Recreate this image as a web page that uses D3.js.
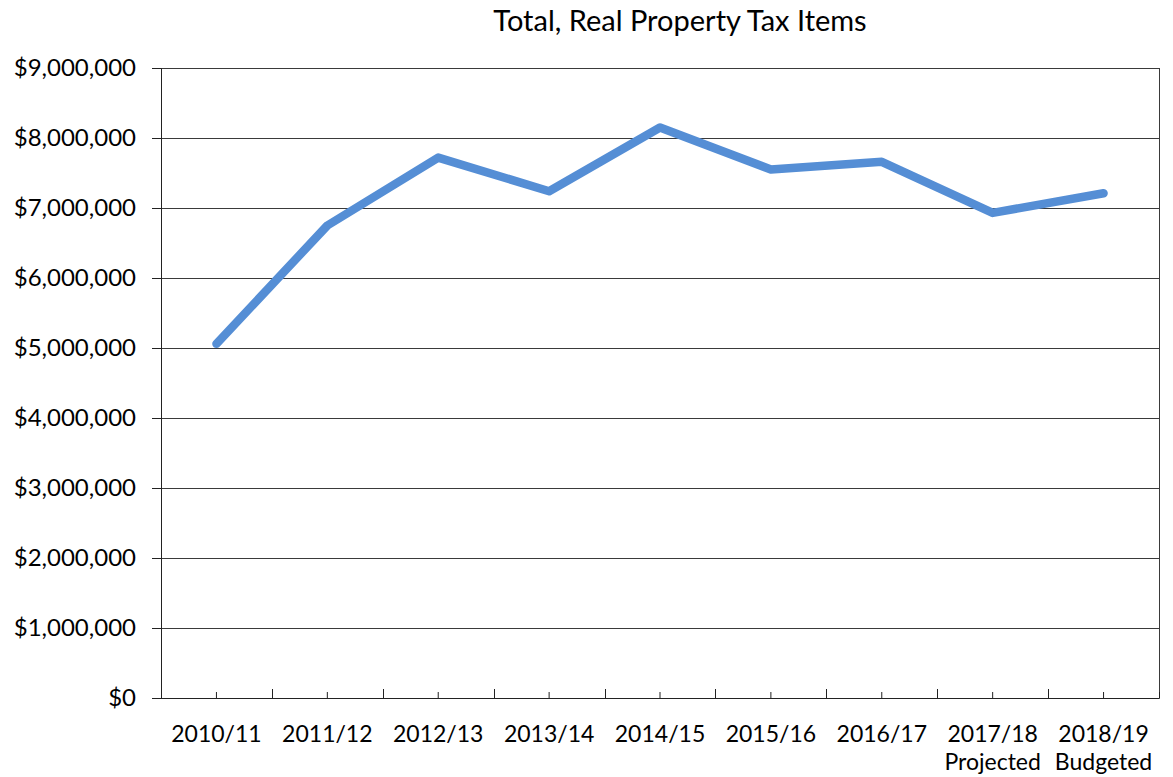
<!DOCTYPE html>
<html lang="en">

<head>
    <meta charset="UTF-8">
    <title>Total, Real Property Tax Items</title>
    <script src="https://d3js.org/d3.v7.min.js"></script>
    <style>
        body {
            margin: 0;
            background: #fff;
        }

        text {
            font-family: Lato, "Open Sans", sans-serif;
            fill: #000;
        }
    </style>
</head>

<body>
    <svg width="1173" height="777"></svg>

    <script>
        // values
        const years = ["2010/11", "2011/12", "2012/13", "2013/14", "2014/15",
            "2015/16", "2016/17", "2017/18", "2018/19"];
        const subLabels = ["", "", "", "", "", "", "", "Projected", "Budgeted"];
        const totals = [5060000, 6750000, 7720000, 7240000, 8150000,
            7550000, 7660000, 6930000, 7210000];
        const yTicks = [0, 1000000, 2000000, 3000000, 4000000,
            5000000, 6000000, 7000000, 8000000, 9000000];

        const svg = d3.select("svg");
        const margin = { top: 68, right: 14, bottom: 79, left: 161 };
        const width = 1173 - margin.left - margin.right;
        const height = 777 - margin.top - margin.bottom;

        const g = svg.append("g")
            .attr("transform", `translate(${margin.left},${margin.top})`);

        const x = d3.scaleBand()
            .domain(years)
            .range([0, width])
            .padding(0);

        const y = d3.scaleLinear()
            .domain([0, 9000000])
            .range([height, 0]);

        // title
        svg.append("text")
            .attr("x", 680)
            .attr("y", 31)
            .attr("text-anchor", "middle")
            .style("font-size", "29px")
            .text("Total, Real Property Tax Items");

        // horizontal gridlines
        g.append("g")
            .selectAll("line")
            .data(yTicks)
            .join("line")
            .attr("x1", 0)
            .attr("x2", width)
            .attr("y1", d => Math.round(y(d)) + 0.5)
            .attr("y2", d => Math.round(y(d)) + 0.5)
            .attr("stroke", "#3a3a3a")
            .attr("stroke-width", 1);

        // right border
        g.append("line")
            .attr("x1", width + 0.5)
            .attr("x2", width + 0.5)
            .attr("y1", 0)
            .attr("y2", height)
            .attr("stroke", "#3a3a3a");

        // y axis
        const yAxis = g.append("g")
            .call(d3.axisLeft(y)
                .tickValues(yTicks)
                .tickSize(9)
                .tickPadding(16)
                .tickFormat(d => "$" + d3.format(",")(d)));
        yAxis.select(".domain").attr("stroke", "#222");
        yAxis.selectAll(".tick line").attr("stroke", "#222");
        yAxis.selectAll("text")
            .style("font-size", "24px")
            .attr("fill", "#000");

        // x axis, short ticks at category centres pointing up
        const xAxis = g.append("g")
            .attr("transform", `translate(0,${height})`)
            .call(d3.axisBottom(x)
                .tickSize(-6)
                .tickPadding(28));
        xAxis.select(".domain").attr("stroke", "#222");
        xAxis.selectAll(".tick line").attr("stroke", "#222");
        xAxis.selectAll(".tick text")
            .style("font-size", "23px")
            .attr("fill", "#000");

        // second line of labels
        xAxis.selectAll(".tick")
            .append("text")
            .attr("y", 72)
            .attr("text-anchor", "middle")
            .style("font-size", "23px")
            .text((d, i) => subLabels[i]);

        // taller ticks at category boundaries
        g.append("g")
            .selectAll("line")
            .data(years.slice(1))
            .join("line")
            .attr("x1", d => Math.round(x(d)) + 0.5)
            .attr("x2", d => Math.round(x(d)) + 0.5)
            .attr("y1", height)
            .attr("y2", height - 9)
            .attr("stroke", "#222");

        // the line
        const line = d3.line()
            .x((d, i) => x(years[i]) + x.bandwidth() / 2)
            .y(d => y(d));

        g.append("path")
            .datum(totals)
            .attr("d", line)
            .attr("fill", "none")
            .attr("stroke", "#558ed5")
            .attr("stroke-width", 8.5)
            .attr("stroke-linejoin", "round")
            .attr("stroke-linecap", "round");
    </script>
</body>

</html>
